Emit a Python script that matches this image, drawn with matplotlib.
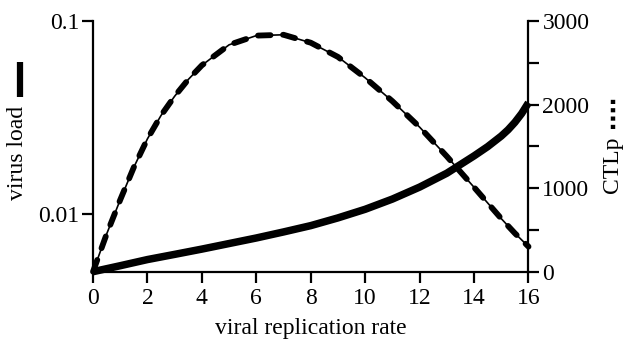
import matplotlib
matplotlib.use("Agg")
import matplotlib.pyplot as plt
from matplotlib.lines import Line2D

plt.rcParams['font.family'] = ['Liberation Serif', 'DejaVu Serif']
plt.rcParams['lines.scale_dashes'] = False

# viral replication rate (x)
rate_vl = [0, 1, 2, 3, 4, 5, 6, 7, 8, 9, 10, 11, 12, 13, 14, 14.5, 15,
           15.25, 15.5, 15.75, 16]
# virus load, left (log) axis
virus_load = [0.00500, 0.00537, 0.00578, 0.00615, 0.00655, 0.00700, 0.00748,
              0.00804, 0.00867, 0.00951, 0.01054, 0.01191, 0.01374, 0.01622,
              0.01995, 0.02228, 0.02529, 0.02725, 0.02979, 0.03311, 0.03767]

rate_ctl = [0, 0.5, 1, 1.5, 2, 2.5, 3, 3.5, 4, 5, 6, 7, 8, 9, 10,
            11, 12, 13, 14, 15, 15.5, 16]
# CTLp, right axis
ctlp = [0, 450, 860, 1250, 1590, 1870, 2100, 2300, 2470, 2715, 2825, 2835,
        2740, 2570, 2320, 2040, 1730, 1380, 1010, 635, 460, 300]

x_ticks = [0, 2, 4, 6, 8, 10, 12, 14, 16]
left_ticks = [0.01, 0.1]
left_labels = ['0.01', '0.1']
right_ticks = [0, 500, 1000, 1500, 2000, 2500, 3000]
right_labels = ['0', '', '1000', '', '2000', '', '3000']

fig = plt.figure(figsize=(6.23, 3.43), dpi=100)
ax = fig.add_axes([0.1493, 0.2079, 0.6990, 0.7309])
ax2 = ax.twinx()

fs = 17
lw_spine = 1.6

# virus load: thick solid
ax.plot(rate_vl, virus_load, color='black', lw=5.4, solid_capstyle='butt',
        solid_joinstyle='round', clip_on=False, zorder=3)
ax.set_yscale('log')
ax.set_ylim(0.005, 0.1)
ax.set_xlim(0, 16)
ax.set_yticks(left_ticks)
ax.set_yticklabels(left_labels)
ax.minorticks_off()
ax.set_xticks(x_ticks)
ax.set_xlabel('viral replication rate', fontsize=fs, labelpad=6)

# CTLp: thin line with thick dashes on top
ax2.plot(rate_ctl, ctlp, color='black', lw=1.2, clip_on=False, zorder=3)
ax2.plot(rate_ctl, ctlp, color='black', lw=4.2, dashes=(9, 9),
         dash_capstyle='round', clip_on=False, zorder=3)
ax2.set_ylim(0, 3000)
ax2.set_yticks(right_ticks)
ax2.set_yticklabels(right_labels)

for a in (ax, ax2):
    a.spines['top'].set_visible(False)
    for s in a.spines.values():
        s.set_linewidth(lw_spine)
    a.tick_params(which='both', direction='out', length=8, width=lw_spine,
                  labelsize=fs, pad=2)
ax.tick_params(axis='x', pad=4)
ax.spines['right'].set_visible(False)
ax2.spines['left'].set_visible(False)
ax2.spines['bottom'].set_visible(False)

# axis titles with their line keys
fig.text(18 / 623, 1 - 153 / 343, 'virus load', rotation=90, fontsize=fs,
         ha='center', va='center')
fig.add_artist(Line2D([20 / 623, 20 / 623], [1 - 97 / 343, 1 - 62 / 343],
                      transform=fig.transFigure, color='black', lw=4.5,
                      solid_capstyle='butt'))
fig.text(612 / 623, 1 - 165 / 343, 'CTLp', rotation=90, fontsize=fs,
         ha='center', va='center')
fig.add_artist(Line2D([613 / 623, 613 / 623], [1 - 129 / 343, 1 - 96 / 343],
                      transform=fig.transFigure, color='black', lw=3.2,
                      dashes=(3, 3)))

fig.savefig('out.png', dpi=100)
